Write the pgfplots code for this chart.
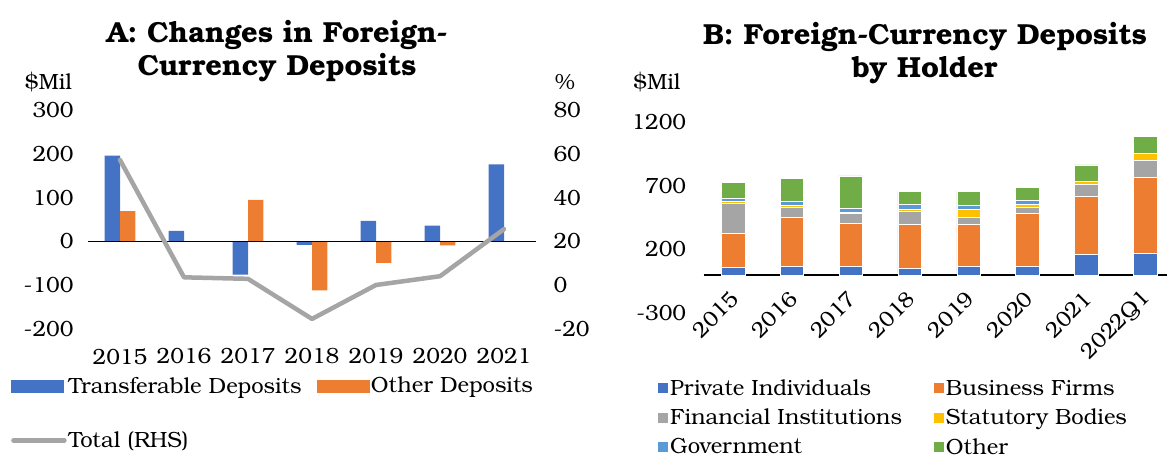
\documentclass[border=0pt]{standalone}
\usepackage{fontspec}
\setmainfont{TeX Gyre Bonum}
\usepackage{pgfplots}
\pgfplotsset{compat=1.18}
\definecolor{cBlue}{HTML}{4472C4}
\definecolor{cOrange}{HTML}{ED7D31}
\definecolor{cGray}{HTML}{A5A5A5}
\definecolor{cYellow}{HTML}{FFC000}
\definecolor{cLBlue}{HTML}{5B9BD5}
\definecolor{cGreen}{HTML}{70AD47}
\pgfplotsset{
  base/.style={scale only axis, axis line style={draw=none}, major tick length=0pt,
    tick label style={font=\fontsize{22}{26}\selectfont},
    /pgf/number format/assume math mode=true, /pgf/number format/1000 sep={},
    clip=false},
}
\begin{document}
\begin{tikzpicture}[x=1pt,y=1pt]
\useasboundingbox (0,0) rectangle (1167,455);
\node[font=\bfseries\fontsize{29}{33}\selectfont, align=center] at (277,404) {A: Changes in Foreign-\\Currency Deposits};
\node[font=\bfseries\fontsize{29}{33}\selectfont, align=center] at (925,402) {B: Foreign-Currency Deposits\\by Holder};
\node[font=\fontsize{22}{26}\selectfont] at (48.5,373) {\$Mil};
\node[font=\fontsize{22}{26}\selectfont] at (565,373) {\%};
\node[font=\fontsize{22}{26}\selectfont] at (657,373) {\$Mil};

% Panel A, left axis
\begin{axis}[base, at={(88pt,126pt)}, anchor=south west, width=448pt, height=219pt,
  xmin=-0.5, xmax=6.5, ymin=-200, ymax=300, ytick={-200,-100,...,300},
  xtick={0,...,6}, xticklabels={2015,2016,2017,2018,2019,2020,2021},
  xticklabel style={yshift=-16pt},
  yticklabel style={xshift=-11pt},
  ybar=0pt, bar width=15.4pt]
\addplot[fill=cBlue, draw=none] coordinates {(0,196) (1,24) (2,-76) (3,-8) (4,47) (5,36) (6,176)};
\addplot[fill=cOrange, draw=none] coordinates {(0,69) (1,0) (2,95) (3,-112) (4,-49) (5,-9) (6,0)};
\draw[black, line width=1.5pt] (axis cs:-0.5,0) -- (axis cs:6.5,0);
\end{axis}
% Panel A, right axis
\begin{axis}[base, at={(88pt,126pt)}, anchor=south west, width=448pt, height=219pt,
  xmin=-0.5, xmax=6.5, ymin=-20, ymax=80, ytick={-20,0,...,80}, xtick=\empty,
  yticklabel pos=right, yticklabel style={xshift=14pt},
  legend columns=2, legend cell align=left,
  legend style={at={(-0.1786,-0.2)}, anchor=north west, draw=none, fill=none,
    font=\fontsize{22}{26}\selectfont, row sep=33pt,
    /tikz/every even column/.append style={column sep=13pt}}]
\addlegendimage{legend image code/.code={\fill[cBlue] (0pt,-6pt) rectangle (52pt,6pt);}}
\addlegendentry{Transferable Deposits}
\addlegendimage{legend image code/.code={\fill[cOrange] (0pt,-6pt) rectangle (52pt,6pt);}}
\addlegendentry{Other Deposits}
\addplot[cGray, line width=4.5pt, line join=round, line cap=round,
  legend image code/.code={\draw[cGray, line width=4.5pt, line cap=round] (2pt,0pt) -- (53pt,0pt);}]
  coordinates {(0,57.2) (1,3.6) (2,2.9) (3,-15.4) (4,0.1) (5,4.1) (6,25.6)};
\addlegendentry{Total (RHS)}
\end{axis}

% Panel B
\begin{axis}[base, at={(703.6pt,141.7pt)}, anchor=south west, width=463.5pt, height=191.6pt,
  xmin=-0.5, xmax=7.37, ymin=-300, ymax=1200, ytick={-300,200,700,1200},
  xtick={0,...,7}, xticklabels={2015,2016,2017,2018,2019,2020,2021,2022Q1},
  xticklabel style={yshift=20.6pt, xshift=4pt, rotate=45, anchor=east},
  yticklabel style={xshift=-14pt},
  ybar stacked, bar width=23.5pt,
  every axis plot/.append style={draw=white, line width=0.6pt},
  legend columns=2, legend cell align=left,
  legend image code/.code={\fill[#1, draw=none] (0pt,-5pt) rectangle (10pt,5pt);},
  legend style={at={(-0.1049,-0.325)}, anchor=north west, draw=none, fill=none,
    font=\fontsize{22}{26}\selectfont, row sep=8pt,
    /tikz/every even column/.append style={column sep=30pt}}]
\addplot[fill=cBlue] coordinates {(0,62) (1,70) (2,70) (3,49) (4,65) (5,70) (6,161) (7,167)};
\addplot[fill=cOrange] coordinates {(0,261) (1,380) (2,333) (3,349) (4,333) (5,409) (6,456) (7,599)};
\addplot[fill=cGray] coordinates {(0,239) (1,79) (2,79) (3,102) (4,55) (5,52) (6,89) (7,128)};
\addplot[fill=cYellow] coordinates {(0,13) (1,13) (2,10) (3,13) (4,60) (5,21) (6,28) (7,55)};
\addplot[fill=cLBlue] coordinates {(0,29) (1,34) (2,31) (3,37) (4,34) (5,34) (6,0) (7,0)};
\addplot[fill=cGreen] coordinates {(0,123) (1,179) (2,253) (3,106) (4,109) (5,99) (6,128) (7,135)};
\legend{Private Individuals, Business Firms, Financial Institutions, Statutory Bodies, Government, Other}
\draw[black, line width=1.5pt] (axis cs:-0.5,0) -- (axis cs:7.37,0);
\end{axis}
\end{tikzpicture}
\end{document}
